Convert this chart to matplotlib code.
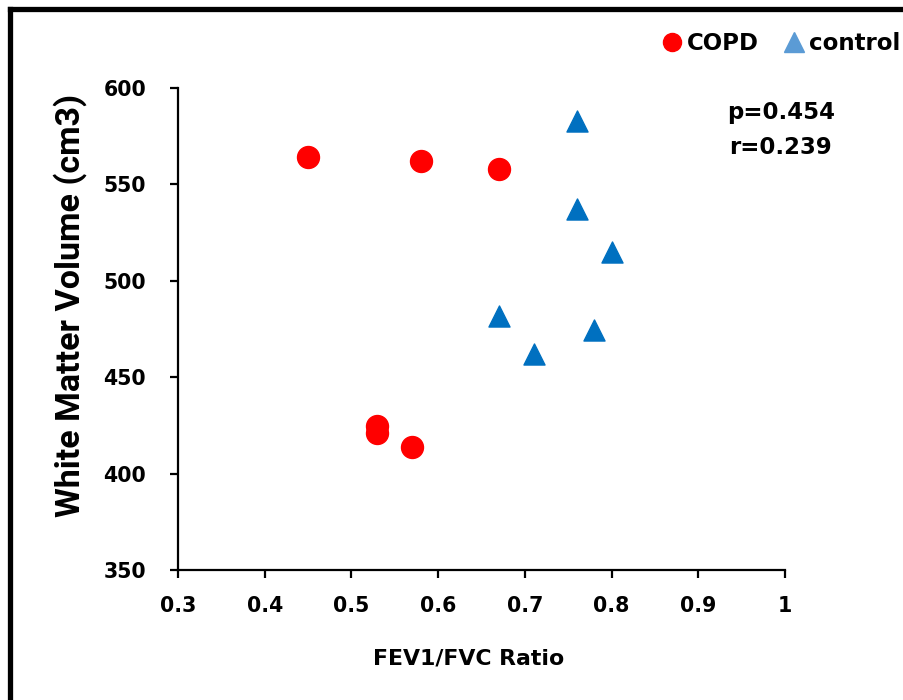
import matplotlib.pyplot as plt
from matplotlib.lines import Line2D

# datos
copd_ratio = [0.45, 0.58, 0.67, 0.53, 0.53, 0.57]
copd_wmv = [564, 562, 558, 424.5, 421, 414]
control_ratio = [0.76, 0.76, 0.80, 0.67, 0.78, 0.71]
control_wmv = [583, 537.5, 515, 482, 474.5, 462]
x_ticks = [0.3, 0.4, 0.5, 0.6, 0.7, 0.8, 0.9, 1.0]
x_labels = ["0.3", "0.4", "0.5", "0.6", "0.7", "0.8", "0.9", "1"]
y_ticks = [350, 400, 450, 500, 550, 600]

plt.rcParams['font.family'] = ['DejaVu Sans']
plt.rcParams['font.weight'] = 'bold'

fig = plt.figure(figsize=(9.04, 7.0), dpi=100)
ax = fig.add_axes([178 / 904, 1 - 570 / 700, (785 - 178) / 904, (570 - 88) / 700])

ax.scatter(copd_ratio, copd_wmv, s=250, marker='o', color='#FF0000', zorder=3, clip_on=False)
ax.scatter(control_ratio, control_wmv, s=230, marker='^', color='#0070C0', zorder=3, clip_on=False)

ax.set_xlim(0.3, 1.0)
ax.set_ylim(350, 600)
ax.set_xticks(x_ticks)
ax.set_xticklabels(x_labels)
ax.set_yticks(y_ticks)

for side in ['top', 'right']:
    ax.spines[side].set_visible(False)
for side in ['left', 'bottom']:
    ax.spines[side].set_linewidth(1.6)
ax.tick_params(direction='out', length=6, width=1.6, labelsize=14.8)
ax.tick_params(axis='x', pad=13)
ax.tick_params(axis='y', pad=17)
for lab in ax.get_xticklabels() + ax.get_yticklabels():
    lab.set_fontweight('bold')

ax.set_xlabel("FEV1/FVC Ratio", fontsize=15.8, fontweight='bold', va='center')
ax.xaxis.set_label_coords(0.479, -0.183)
ax.set_ylabel("White Matter Volume (cm3)", fontsize=24.5, fontweight='bold',
              family=['Roboto', 'DejaVu Sans'], va='center')
ax.yaxis.set_label_coords(-0.178, 0.548)

# texto de estadisticos
fig.text(781 / 904, 1 - 112 / 700, "p=0.454", fontsize=16.5, fontweight='bold', ha='center', va='center')
fig.text(781 / 904, 1 - 147 / 700, "r=0.239", fontsize=16.5, fontweight='bold', ha='center', va='center')

# leyenda
handles = [
    Line2D([], [], marker='o', linestyle='none', markersize=13, color='#FF0000'),
    Line2D([], [], marker='^', linestyle='none', markersize=14, color='#5B9BD5'),
]
fig.legend(handles, ["COPD", "control"], loc='center left',
           bbox_to_anchor=(658 / 904, 1 - 44 / 700), ncol=2, frameon=False,
           borderpad=0, borderaxespad=0,
           handletextpad=0.05, columnspacing=0.95, handlelength=1.2,
           prop={'size': 16.5, 'weight': 'bold'})

# marco de la imagen
fig.add_artist(Line2D([10 / 904, 10 / 904], [0, 1 - 9 / 700], color='black', linewidth=3.8, solid_capstyle='projecting'))
fig.add_artist(Line2D([10 / 904, 1], [1 - 9 / 700, 1 - 9 / 700], color='black', linewidth=3.8, solid_capstyle='projecting'))

fig.savefig("out.png", dpi=100)
